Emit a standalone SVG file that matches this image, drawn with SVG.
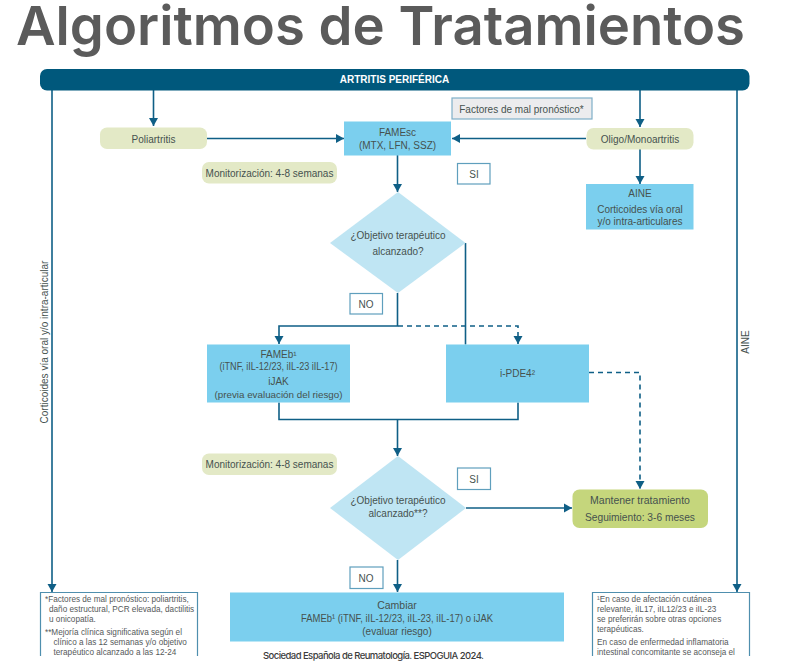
<svg xmlns="http://www.w3.org/2000/svg" width="786" height="668" viewBox="0 0 786 668">
<style>
text{font-family:"Liberation Sans",Arial,sans-serif;font-size:10px;fill:#46524f;text-anchor:middle}
.title{font-family:Inter,"Liberation Sans",sans-serif;font-size:54px;font-weight:600;fill:#5b5b5b;text-anchor:start}
.ban{font-weight:700;fill:#fff;font-size:10px}
.blue{fill:#7bcfee}.dia{fill:#bfe5f3}.green{fill:#e3e9c6}.dgreen{fill:#c5d67c}
.lab{fill:#fff;stroke:#5f9fbd;stroke-width:1.2}
.note{fill:#fff;stroke:#4f8fae;stroke-width:1.2}
.n{font-size:8.2px;text-anchor:start;fill:#55595a}
.c{fill:none;stroke:#0f5f86;stroke-width:1.6}
.d{stroke-dasharray:5 4}
.a{marker-end:url(#ah)}
.sup{font-size:6px}
</style>
<defs><marker id="ah" markerUnits="userSpaceOnUse" markerWidth="9" markerHeight="10" refX="8" refY="5" orient="auto"><path d="M0 0.5L8 5L0 9.5Z" fill="#0f5f86"/></marker></defs>
<rect width="786" height="668" fill="#fff"/>
<text class="title" x="16" y="45" textLength="729" lengthAdjust="spacingAndGlyphs">Algoritmos de Tratamientos</text>
<g id="connectors">
<path class="c a" d="M52 90V592"/>
<path class="c a" d="M737 90V592"/>
<path class="c a" d="M153.500 90V126"/>
<path class="c a" d="M640 90V127"/>
<path class="c a" d="M207 138.500H344"/>
<path class="c a" d="M586 138.500H452"/>
<path class="c a" d="M640 149V184"/>
<path class="c a" d="M397.500 155V192"/>
<path class="c" d="M465.500 243V344.500"/>
<path class="c a" d="M397.500 293V326H279V344"/>
<path class="c d a" d="M398 326H518V344"/>
<path class="c" d="M279 402.500V419.500H518V402.500"/>
<path class="c a" d="M397.500 419.500V456"/>
<path class="c d a" d="M589 372.500H640V489"/>
<path class="c a" d="M466 508H572"/>
<path class="c a" d="M397.500 560V592"/>
</g>
<g id="banner"><rect x="40" y="69" width="709.500" height="21.500" rx="7" fill="#00587c"/><text class="ban" x="394.500" y="83">ARTRITIS PERIFÉRICA</text></g>
<g id="poliartritis"><rect class="green" x="100" y="127.500" width="107" height="21.500" rx="7"/><text x="153.500" y="142.500">Poliartritis</text></g>
<g id="famesc"><rect class="blue" x="344" y="121.500" width="107" height="34"/><text x="397.500" y="136">FAMEsc</text><text x="397.500" y="149">(MTX, LFN, SSZ)</text></g>
<g id="factores"><rect x="452" y="98" width="140" height="21" fill="#ececee" stroke="#7fb0c8" stroke-width="1.200"/><text x="521.500" y="112.500">Factores de mal pronóstico*</text></g>
<g id="oligo"><rect class="green" x="586.500" y="128" width="107" height="21.500" rx="7"/><text x="640" y="142.500">Oligo/Monoartritis</text></g>
<g id="aine"><rect class="blue" x="586" y="184" width="107.500" height="45.500"/><text x="640" y="196.500">AINE</text><text x="640" y="212.500">Corticoides vía oral</text><text x="640" y="224.500">y/o intra-articulares</text></g>
<g id="si1"><rect class="lab" x="457.500" y="163.500" width="32.500" height="20.500"/><text x="474" y="177.500">SI</text></g>
<g id="monit1"><rect class="green" x="202" y="162" width="135" height="21.500" rx="7"/><text x="269.500" y="176.500">Monitorización: 4-8 semanas</text></g>
<g id="objetivo1"><polygon class="dia" points="398,192 465.500,243 398,293 330,243"/><text x="398" y="238.500">¿Objetivo terapéutico</text><text x="398" y="254.500">alcanzado?</text></g>
<g id="no1"><rect class="lab" x="350" y="293.500" width="32.500" height="20.500"/><text x="366" y="308">NO</text></g>
<g id="fameb"><rect class="blue" x="207" y="344.500" width="143" height="58"/><text x="278.500" y="357.500">FAMEb¹</text><text x="278.500" y="369.500" textLength="118" lengthAdjust="spacingAndGlyphs">(iTNF, iIL-12/23, iIL-23 iIL-17)</text><text x="278.500" y="385">iJAK</text><text x="278.500" y="397.500" style="font-size:9.800px">(previa evaluación del riesgo)</text></g>
<g id="ipde4"><rect class="blue" x="446" y="344.500" width="143" height="58"/><text x="517.500" y="377">i-PDE4²</text></g>
<g id="monit2"><rect class="green" x="202" y="453.500" width="135" height="21.500" rx="7"/><text x="269.500" y="468">Monitorización: 4-8 semanas</text></g>
<g id="objetivo2"><polygon class="dia" points="398,456 466,508 398,560 330,508"/><text x="398" y="504">¿Objetivo terapéutico</text><text x="398" y="517">alcanzado**?</text></g>
<g id="si2"><rect class="lab" x="457.500" y="468" width="33" height="21.500"/><text x="474" y="483">SI</text></g>
<g id="mantener"><rect class="dgreen" x="572.500" y="489.500" width="135.500" height="38.500" rx="7"/><text x="640" y="504" style="font-size:10.500px">Mantener tratamiento</text><text x="640" y="521" style="font-size:10.200px">Seguimiento: 3-6 meses</text></g>
<g id="no2"><rect class="lab" x="350" y="567" width="33" height="21.500"/><text x="366" y="581.500">NO</text></g>
<g id="cambiar"><rect class="blue" x="230" y="592.500" width="334" height="49"/><text x="397" y="609" style="font-size:10.500px">Cambiar</text><text x="397" y="622" textLength="192" lengthAdjust="spacingAndGlyphs" style="font-size:10.500px">FAMEb¹ (iTNF, iIL-12/23, iIL-23, iIL-17) o iJAK</text><text x="397" y="634.500">(evaluar riesgo)</text></g>
<g id="note-left"><path class="note" d="M40.500 656V592.500H197.500V656"/>
<text class="n" x="45" y="602">*Factores de mal pronóstico: poliartritis,</text>
<text class="n" x="49" y="612">daño estructural, PCR elevada, dactilitis</text>
<text class="n" x="49" y="622">u onicopatía.</text>
<text class="n" x="45" y="635">**Mejoría clínica significativa según el</text>
<text class="n" x="53.500" y="645">clínico a las 12 semanas y/o objetivo</text>
<text class="n" x="53.500" y="655">terapéutico alcanzado a las 12-24</text></g>
<g id="note-right"><path class="note" d="M592.500 656V592.500H749.500V656"/>
<text class="n" x="597" y="602">¹En caso de afectación cutánea</text>
<text class="n" x="597" y="612">relevante, iIL17, iIL12/23 e iIL-23</text>
<text class="n" x="597" y="622">se preferirán sobre otras opciones</text>
<text class="n" x="597" y="632">terapéuticas.</text>
<text class="n" x="597" y="645">En caso de enfermedad inflamatoria</text>
<text class="n" x="597" y="655">intestinal concomitante se aconseja el</text></g>
<g id="side-left"><text transform="translate(48 342) rotate(-90)">Corticoides vía oral y/o intra-articular</text></g>
<g id="side-right"><text transform="translate(749 342) rotate(-90)">AINE</text></g>
<g id="footer"><text x="373.500" y="658.500" textLength="221" style="font-family:Inter,'Liberation Sans',sans-serif;font-size:9.500px;font-weight:500;fill:#3c3c3c">Sociedad Española de Reumatología. ESPOGUIA 2024.</text></g>
</svg>
